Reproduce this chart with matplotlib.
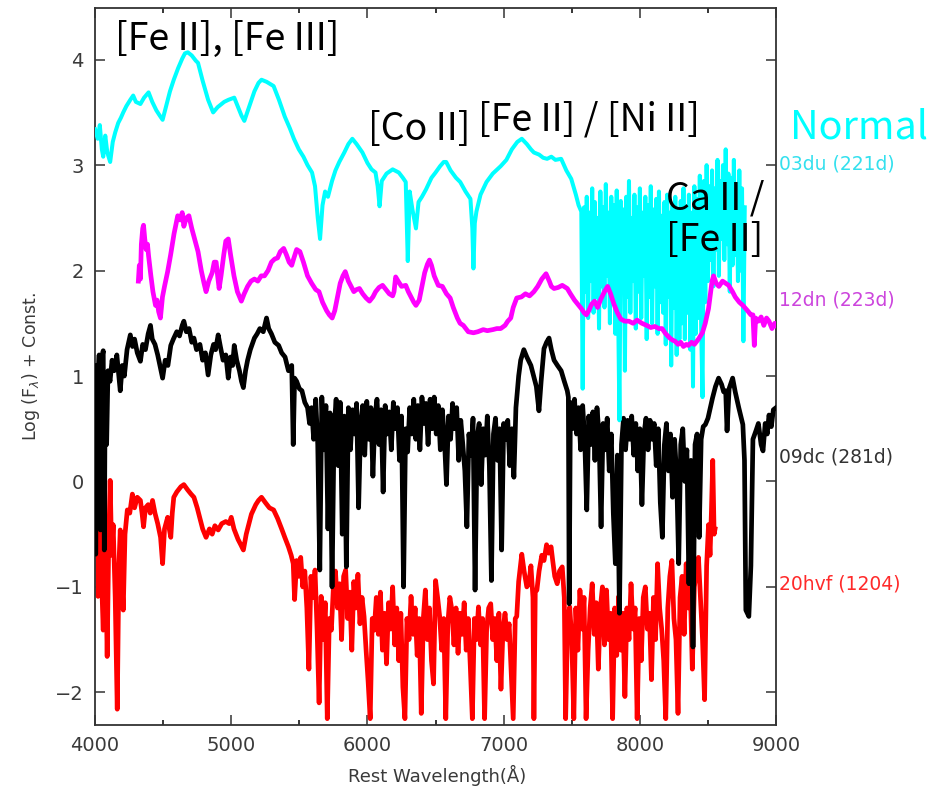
import matplotlib
matplotlib.use("Agg")
import matplotlib.pyplot as plt
from matplotlib.ticker import MultipleLocator

# ---------------- data ----------------
wl_03du = [4000, 4020, 4035, 4050, 4060, 4075, 4090, 4111, 4130, 4148, 4170, 4190, 4207, 4230, 4259, 4280, 4300,
           4333, 4360, 4393, 4420, 4450, 4475, 4496, 4520, 4550, 4578, 4610, 4640, 4660, 4681, 4710, 4740, 4756,
           4790, 4830, 4867, 4900, 4948, 4980, 5022, 5050, 5075, 5096, 5130, 5170, 5200, 5222, 5260, 5311, 5350,
           5393, 5430, 5460, 5496, 5530, 5560, 5593, 5615, 5635, 5652, 5670, 5689, 5710, 5740, 5765, 5793, 5830,
           5860, 5889, 5920, 5963, 6000, 6030, 6059, 6075, 6089, 6105, 6140, 6185, 6230, 6260, 6281, 6296, 6310,
           6330, 6356, 6375, 6400, 6430, 6470, 6500, 6533, 6560, 6578, 6610, 6650, 6681, 6720, 6756, 6770, 6778,
           6788, 6800, 6830, 6874, 6920, 6978, 7020, 7060, 7100, 7133, 7170, 7200, 7222, 7260, 7290, 7319, 7350,
           7380, 7422, 7460, 7496, 7530, 7550, 7570,
           7580, 7590, 7600, 7610, 7620, 7630, 7640, 7650, 7660, 7670, 7680, 7690, 7700, 7710, 7720, 7730, 7740,
           7750, 7760, 7770, 7780, 7790, 7800, 7810, 7820, 7830, 7840, 7850, 7860, 7870, 7880, 7890, 7900, 7910,
           7920, 7930, 7940, 7950, 7960, 7970, 7980, 7990, 8000, 8010, 8020, 8030, 8040, 8050, 8060, 8070, 8080,
           8090, 8100, 8110, 8120, 8130, 8140, 8150, 8160, 8170, 8180, 8190, 8200, 8210, 8220, 8230, 8240, 8250,
           8260, 8270, 8280, 8290, 8300, 8310, 8320, 8330, 8340, 8350, 8360, 8370, 8380, 8390, 8400, 8410, 8420,
           8430, 8440, 8450, 8460, 8470, 8480, 8490, 8500, 8510, 8520, 8530, 8540, 8550, 8560, 8570, 8580, 8590,
           8600, 8610, 8620, 8630, 8640, 8650, 8660, 8670, 8680, 8690, 8700, 8710, 8720, 8730, 8740, 8750, 8760,
           8770]
fl_03du = [3.34, 3.25, 3.38, 3.15, 3.08, 3.28, 3.12, 3.03, 3.22, 3.31, 3.40, 3.45, 3.50, 3.56, 3.62, 3.66, 3.60,
           3.58, 3.64, 3.69, 3.60, 3.52, 3.47, 3.43, 3.55, 3.70, 3.81, 3.92, 4.01, 4.06, 4.07, 4.04, 3.99, 3.97,
           3.80, 3.62, 3.50, 3.55, 3.60, 3.62, 3.64, 3.55, 3.47, 3.42, 3.55, 3.70, 3.78, 3.81, 3.79, 3.75, 3.62,
           3.46, 3.35, 3.25, 3.15, 3.08, 3.00, 2.93, 2.80, 2.50, 2.30, 2.62, 2.75, 2.70, 2.85, 2.95, 3.03, 3.12,
           3.20, 3.25, 3.20, 3.12, 3.02, 2.96, 2.93, 2.80, 2.61, 2.85, 2.92, 2.96, 2.93, 2.88, 2.84, 2.09, 2.75,
           2.58, 2.40, 2.65, 2.70, 2.77, 2.88, 2.93, 2.99, 3.03, 3.03, 2.95, 2.88, 2.84, 2.75, 2.68, 2.40, 2.02,
           2.45, 2.56, 2.72, 2.84, 2.92, 2.99, 3.05, 3.15, 3.22, 3.25, 3.20, 3.15, 3.12, 3.10, 3.07, 3.06, 3.08,
           3.05, 3.06, 2.95, 2.87, 2.72, 2.62, 2.56,
           0.88, 2.60, 1.80, 2.70, 1.55, 2.55, 1.90, 2.78, 1.60, 2.65, 1.75, 2.50, 1.45, 2.75, 1.85, 2.60, 1.65,
           2.82, 1.95, 2.55, 1.50, 2.70, 1.80, 2.62, 1.40, 2.76, 1.70, 0.58, 2.66, 1.85, 2.58, 1.05, 2.70, 1.75,
           2.85, 1.60, 2.50, 1.90, 2.72, 1.45, 2.60, 1.80, 2.78, 1.55, 2.55, 1.95, 2.70, 1.35, 2.62, 1.75, 2.80,
           1.50, 2.58, 1.85, 2.68, 1.40, 2.75, 1.70, 2.52, 1.60, 2.65, 1.30, 2.72, 1.75, 2.55, 1.10, 2.62, 1.65,
           2.70, 1.20, 2.58, 1.35, 2.66, 1.50, 2.78, 1.35, 2.60, 1.60, 2.72, 1.25, 2.55, 0.90, 2.80, 1.40, 2.68,
           1.55, 2.90, 1.45, 0.80, 2.85, 1.70, 3.00, 1.90, 2.80, 2.10, 2.95, 1.85, 2.78, 2.20, 3.05, 1.95, 2.85,
           2.30, 3.00, 2.10, 3.15, 2.25, 2.92, 1.80, 2.88, 2.05, 3.05, 2.15, 2.82, 1.90, 2.95, 2.00, 2.78, 1.33,
           2.60]

wl_12dn = [4318, 4325, 4333, 4340, 4350, 4356, 4365, 4375, 4385, 4393, 4410, 4425, 4444, 4455, 4467, 4480, 4495,
           4510, 4533, 4555, 4580, 4607, 4625, 4640, 4652, 4670, 4689, 4710, 4735, 4756, 4780, 4800, 4815, 4835,
           4860, 4875, 4889, 4900, 4911, 4925, 4945, 4960, 4978, 4995, 5020, 5045, 5074, 5095, 5120, 5145, 5170,
           5195, 5220, 5244, 5270, 5295, 5319, 5340, 5360, 5385, 5405, 5425, 5444, 5460, 5480, 5504, 5530, 5560,
           5590, 5620, 5644, 5670, 5700, 5720, 5741, 5760, 5780, 5800, 5820, 5837, 5860, 5880, 5900, 5920, 5941,
           5965, 5990, 6015, 6040, 6060, 6085, 6111, 6135, 6160, 6185, 6195, 6207, 6225, 6250, 6281, 6300, 6320,
           6340, 6356, 6380, 6400, 6420, 6440, 6455, 6470, 6490, 6520, 6550, 6580, 6607, 6630, 6660, 6680, 6704,
           6740, 6778, 6810, 6850, 6880, 6920, 6950, 6978, 7010, 7030, 7052, 7070, 7096, 7130, 7160, 7190, 7222,
           7250, 7280, 7311, 7335, 7350, 7370, 7400, 7430, 7467, 7490, 7520, 7545, 7570, 7590, 7607, 7625, 7645,
           7667, 7690, 7710, 7740, 7763, 7785, 7810, 7835, 7860, 7889, 7920, 7950, 7980, 8015, 8050, 8080, 8110,
           8140, 8163, 8190, 8220, 8240, 8259, 8280, 8300, 8320, 8340, 8356, 8380, 8400, 8430, 8459, 8480, 8504,
           8520, 8530, 8541, 8560, 8580, 8607, 8630, 8652, 8680, 8700, 8730, 8756, 8790, 8815, 8830, 8840, 8850,
           8870, 8890, 8910, 8930, 8948, 8970, 8990, 9000]
fl_12dn = [1.90, 2.05, 1.92, 2.25, 2.40, 2.43, 2.30, 2.20, 2.25, 2.14, 1.95, 1.80, 1.67, 1.72, 1.61, 1.55, 1.75,
           1.85, 1.99, 2.15, 2.35, 2.52, 2.48, 2.55, 2.42, 2.50, 2.52, 2.40, 2.28, 2.18, 2.00, 1.88, 1.80, 1.90,
           1.98, 2.08, 2.08, 1.95, 1.83, 1.95, 2.15, 2.28, 2.30, 2.15, 1.95, 1.80, 1.71, 1.78, 1.85, 1.90, 1.92,
           1.90, 1.95, 1.95, 2.00, 2.08, 2.11, 2.12, 2.18, 2.21, 2.15, 2.08, 2.05, 2.12, 2.20, 2.18, 2.08, 1.95,
           1.88, 1.82, 1.80, 1.70, 1.62, 1.58, 1.55, 1.62, 1.75, 1.88, 1.95, 1.99, 1.90, 1.85, 1.80, 1.82, 1.83,
           1.78, 1.74, 1.71, 1.75, 1.80, 1.84, 1.86, 1.82, 1.78, 1.76, 1.80, 1.94, 1.90, 1.85, 1.86, 1.80, 1.75,
           1.70, 1.67, 1.72, 1.85, 1.98, 2.06, 2.10, 2.05, 1.95, 1.86, 1.85, 1.78, 1.74, 1.65, 1.55, 1.50, 1.48,
           1.42, 1.41, 1.42, 1.44, 1.43, 1.44, 1.45, 1.45, 1.48, 1.52, 1.55, 1.65, 1.74, 1.75, 1.78, 1.76, 1.80,
           1.85, 1.92, 1.97, 1.90, 1.85, 1.83, 1.84, 1.86, 1.83, 1.78, 1.72, 1.68, 1.64, 1.60, 1.58, 1.62, 1.68,
           1.71, 1.65, 1.72, 1.80, 1.85, 1.78, 1.68, 1.60, 1.54, 1.52, 1.52, 1.50, 1.53, 1.50, 1.48, 1.46, 1.47,
           1.45, 1.45, 1.40, 1.36, 1.34, 1.33, 1.30, 1.32, 1.28, 1.30, 1.29, 1.32, 1.30, 1.35, 1.41, 1.50, 1.64,
           1.80, 1.90, 1.95, 1.88, 1.85, 1.90, 1.88, 1.86, 1.80, 1.75, 1.70, 1.67, 1.62, 1.58, 1.58, 1.29, 1.55,
           1.52, 1.56, 1.48, 1.55, 1.52, 1.45, 1.50, 1.48]

wl_09dc = [4000, 4005, 4012, 4020, 4030, 4040, 4048, 4060, 4068, 4075, 4085, 4095, 4110, 4125, 4140, 4160, 4185,
           4200, 4215, 4235, 4259, 4275, 4290, 4310, 4333, 4350, 4370, 4390, 4407, 4420, 4440, 4460, 4480, 4496,
           4515, 4535, 4556, 4575, 4600, 4620, 4640, 4652, 4670, 4690, 4710, 4726, 4745, 4770, 4790, 4810, 4830,
           4850, 4870, 4885, 4904, 4920, 4940, 4960, 4978, 4995, 5010, 5022, 5040, 5060, 5075, 5089, 5105, 5120,
           5140, 5170, 5190, 5210, 5235, 5259, 5275, 5295, 5320, 5348, 5370, 5395, 5420, 5444, 5455, 5465, 5480,
           5500, 5519, 5540, 5560, 5575,
           5590, 5605, 5620, 5635, 5650, 5665, 5680, 5695, 5710, 5725, 5740, 5755, 5770, 5785, 5800, 5815, 5830,
           5845, 5860, 5875, 5890, 5905, 5920, 5935, 5950, 5965, 5980, 5995, 6010, 6025, 6040, 6055, 6070, 6085,
           6100, 6115, 6130, 6145, 6160, 6175, 6190, 6205, 6220, 6235, 6250, 6265, 6280, 6295, 6310, 6325, 6340,
           6355, 6370, 6385, 6400, 6415, 6430, 6445, 6460, 6475, 6490, 6505, 6520, 6535, 6550, 6565, 6580, 6595,
           6610, 6625, 6640, 6655, 6670, 6685, 6700, 6715, 6730, 6745, 6760, 6775, 6790, 6805, 6820, 6835, 6850,
           6865, 6880, 6895, 6910, 6925, 6940, 6955, 6970, 6985, 7000, 7015, 7030, 7045, 7060, 7075, 7090,
           7110, 7125, 7148, 7170, 7200, 7220, 7240, 7259, 7275, 7296, 7315, 7333, 7350, 7370, 7395, 7422, 7445,
           7467, 7475, 7481,
           7490, 7505, 7520, 7535, 7550, 7565, 7580, 7595, 7610, 7625, 7640, 7655, 7670, 7685, 7700, 7715, 7730,
           7745, 7760, 7775, 7790, 7805, 7820, 7835, 7850, 7865, 7880, 7895, 7910, 7925, 7940, 7955, 7970, 7985,
           8000, 8015, 8030, 8045, 8060, 8075, 8090, 8105, 8120, 8135, 8150, 8165, 8180, 8195, 8210, 8225, 8240,
           8255, 8270, 8285, 8300, 8315, 8330, 8345, 8360, 8375, 8390, 8405, 8420, 8435, 8450, 8465,
           8481, 8500, 8533, 8555, 8578, 8600, 8615, 8630, 8640, 8655, 8681, 8700, 8726, 8745, 8756, 8768, 8778,
           8800, 8815, 8830, 8852, 8870, 8890, 8904, 8920, 8935, 8948, 8965, 8980, 9000]
fl_09dc = [1.10, -0.69, 1.05, 0.90, 1.20, -0.46, 1.15, 1.24, -0.65, 1.00, 0.35, 1.05, 0.95, 1.15, 1.05, 1.20, 0.86,
           1.10, 1.00, 1.25, 1.39, 1.28, 1.35, 1.22, 1.14, 1.30, 1.25, 1.40, 1.48, 1.35, 1.30, 1.20, 1.08, 0.98,
           1.15, 1.10, 1.29, 1.35, 1.42, 1.38, 1.48, 1.52, 1.42, 1.45, 1.32, 1.36, 1.25, 1.30, 1.15, 1.22, 1.01,
           1.20, 1.30, 1.25, 1.39, 1.28, 1.15, 1.20, 0.98, 1.18, 1.10, 1.29, 1.15, 1.05, 0.95, 0.89, 1.05, 1.15,
           1.25, 1.36, 1.40, 1.45, 1.42, 1.55, 1.45, 1.40, 1.32, 1.29, 1.22, 1.18, 1.05, 1.10, 0.35, 0.98, 0.95,
           0.88, 0.86, 0.75, 0.70, 0.55,
           0.70, 0.40, 0.78, 0.35, -0.84, 0.80, 0.30, 0.72, -0.45, 0.65, -1.00, 0.50, 0.78, 0.15, 0.75, -0.50, 0.62,
           -0.81, 0.70, 0.30, 0.68, 0.45, 0.74, -0.25, 0.55, 0.72, 0.25, 0.76, 0.40, 0.70, 0.05, 0.62, 0.78, 0.35,
           0.68, -0.10, 0.72, 0.45, 0.66, 0.30, 0.75, 0.50, 0.70, 0.20, 0.62, -1.00, 0.50, 0.28, 0.70, 0.45, 0.78,
           0.40, 0.72, 0.30, 0.80, 0.55, 0.74, 0.35, 0.78, 0.50, 0.80, 0.45, 0.72, 0.30, 0.68, 0.40, -0.03, 0.62,
           0.40, 0.74, 0.50, 0.70, 0.20, 0.58, 0.35, 0.10, -0.43, 0.45, 0.25, 0.60, -1.03, 0.42, 0.55, -0.03, 0.50,
           0.25, 0.62, 0.15, -0.94, 0.45, 0.60, 0.20, 0.50, -0.65, 0.55, 0.40, 0.58, 0.15, 0.50, 0.04, 0.70,
           1.00, 1.15, 1.25, 1.18, 1.10, 1.00, 0.90, 0.67, 0.95, 1.26, 1.32, 1.36, 1.25, 1.15, 1.10, 1.05, 0.95,
           0.86, 0.80, -1.16,
           0.75, 0.50, 0.78, 0.45, 0.70, 0.30, 0.72, 0.40, -0.27, 0.62, 0.35, 0.66, 0.20, 0.70, 0.45, -0.43, 0.55,
           0.30, 0.60, 0.10, 0.45, -0.30, -0.78, 0.25, -1.25, 0.35, 0.60, 0.30, 0.58, 0.40, 0.62, 0.25, 0.55, 0.10,
           0.50, -0.22, 0.45, 0.60, 0.30, 0.58, 0.40, 0.55, 0.15, 0.50, -0.20, -0.53, 0.35, 0.55, 0.10, 0.45, -0.15,
           0.40, 0.05, -0.78, 0.35, 0.50, 0.00, 0.30, -0.97, 0.20, -1.57, 0.35, 0.45, -0.53, 0.40, 0.52,
           0.54, 0.60, 0.79, 0.90, 0.98, 0.92, 0.85, 0.86, 0.48, 0.88, 0.98, 0.85, 0.70, 0.60, 0.54, 0.20, -1.22,
           -1.28, -0.80, 0.40, 0.48, 0.55, 0.35, 0.29, 0.55, 0.45, 0.63, 0.52, 0.68, 0.70]

wl_20hvf = [4000, 4010, 4022, 4030, 4045, 4060, 4070, 4080, 4089, 4100, 4111, 4122, 4133, 4148, 4163, 4175, 4185,
            4196, 4207, 4220, 4237, 4255, 4274, 4290, 4310, 4333, 4345, 4356, 4370, 4390, 4405, 4422, 4440, 4460,
            4481, 4496, 4510, 4533, 4545, 4556, 4567, 4578, 4600, 4630, 4652, 4680, 4705, 4726, 4750, 4770, 4790,
            4815, 4840, 4860, 4880, 4904, 4930, 4960, 4985, 5000, 5020, 5050, 5070, 5089, 5110, 5130, 5148, 5180,
            5200, 5222, 5250, 5280, 5311, 5340, 5370, 5393, 5420, 5440, 5455,
            5465, 5480, 5495, 5510, 5525, 5540, 5555, 5570, 5585, 5600, 5615, 5630, 5645, 5660, 5675, 5690, 5705,
            5720, 5735, 5750, 5765, 5780, 5795, 5810, 5825, 5840, 5855, 5870, 5885, 5900, 5915, 5930, 5945, 5960,
            5975, 5990, 6005, 6020, 6035, 6050, 6065, 6080, 6095, 6110, 6125, 6140, 6155, 6170, 6185, 6200, 6215,
            6230, 6245, 6260, 6275, 6290, 6305, 6320, 6335, 6350, 6365, 6380, 6395, 6410, 6425, 6440, 6455, 6470,
            6485, 6500, 6515, 6530, 6545, 6560, 6575, 6590, 6605, 6620, 6635, 6650, 6665, 6680, 6695, 6710, 6725,
            6740, 6755, 6770, 6785, 6800, 6815, 6830, 6845, 6860, 6875, 6890, 6905, 6920, 6935, 6950, 6965, 6980,
            6995, 7010, 7025, 7040, 7055, 7070, 7085,
            7096, 7110, 7133, 7150, 7170, 7185, 7200, 7215, 7222, 7232, 7244, 7260, 7280, 7296, 7315, 7330, 7348,
            7360, 7375, 7393, 7410, 7430, 7445,
            7455, 7470, 7485, 7500, 7515, 7530, 7545, 7560, 7575, 7590, 7605, 7620, 7635, 7650, 7665, 7680, 7695,
            7710, 7725, 7740, 7755, 7770, 7785, 7800, 7815, 7830, 7845, 7860, 7875, 7890, 7905, 7920, 7935, 7950,
            7965, 7980, 7995, 8010, 8025, 8040, 8055, 8070, 8085, 8100, 8115, 8130, 8145, 8160, 8175, 8190, 8205,
            8220, 8235, 8250, 8265, 8280, 8295, 8310, 8325, 8340, 8355, 8370, 8385, 8400, 8415, 8430, 8445, 8460,
            8475, 8490,
            8504, 8515, 8525, 8535, 8545, 8552]
fl_20hvf = [0.16, -0.40, -1.09, -0.20, -0.80, -1.41, -0.50, -0.90, -1.66, -0.60, 0.01, -0.70, -0.41, -1.10, -2.16,
            -0.80, -0.46, -0.90, -1.22, -0.50, -0.27, -0.30, -0.12, -0.25, -0.15, -0.18, -0.30, -0.43, -0.25, -0.22,
            -0.30, -0.18, -0.30, -0.40, -0.53, -0.78, -0.45, -0.34, -0.45, -0.53, -0.30, -0.15, -0.10, -0.05, -0.03,
            -0.08, -0.12, -0.15, -0.25, -0.35, -0.45, -0.53, -0.45, -0.50, -0.42, -0.46, -0.40, -0.38, -0.40, -0.34,
            -0.45, -0.55, -0.60, -0.65, -0.50, -0.40, -0.31, -0.22, -0.18, -0.15, -0.20, -0.25, -0.27, -0.35, -0.45,
            -0.53, -0.62, -0.70, -0.78,
            -1.12, -0.75, -0.90, -0.72, -1.00, -0.85, -1.20, -1.78, -0.90, -1.10, -0.84, -1.40, -2.10, -1.09, -1.50,
            -1.15, -2.25, -1.30, -1.41, -1.00, -0.85, -1.20, -0.97, -1.50, -0.90, -0.84, -1.30, -1.05, -1.60, -0.95,
            -1.20, -0.88, -1.35, -1.10, -1.28, -1.60, -1.90, -2.25, -1.30, -1.41, -1.10, -1.45, -1.05, -1.60, -1.25,
            -1.73, -1.15, -1.40, -1.00, -1.55, -1.20, -1.70, -1.25, -1.95, -2.25, -1.30, -1.50, -1.09, -1.45, -1.20,
            -1.65, -1.30, -2.20, -1.30, -1.03, -1.50, -1.20, -1.70, -1.92, -0.94, -1.10, -1.28, -1.60, -1.30, -2.25,
            -1.35, -1.10, -1.22, -1.55, -1.20, -1.63, -1.25, -1.45, -1.15, -1.60, -1.30, -1.75, -2.25, -1.30, -1.50,
            -1.19, -1.55, -1.30, -2.25, -1.40, -1.20, -1.16, -1.50, -1.30, -1.70, -1.25, -1.97, -1.40, -1.25, -1.50,
            -1.35, -1.80, -2.25, -1.30,
            -1.28, -0.95, -0.69, -0.85, -1.00, -0.97, -0.80, -1.10, -2.25, -1.05, -1.03, -0.85, -0.70, -0.75, -0.60,
            -0.68, -0.62, -0.75, -0.90, -0.97, -0.85, -0.81, -1.10,
            -2.25, -1.30, -1.19, -1.50, -2.25, -1.20, -1.60, -1.03, -1.40, -1.10, -2.25, -1.60, -1.20, -0.97, -1.45,
            -1.15, -1.78, -1.20, -1.00, -1.55, -1.03, -1.50, -1.25, -2.25, -1.20, -1.65, -1.09, -1.60, -1.25, -2.04,
            -1.20, -1.50, -0.97, -1.40, -1.20, -2.25, -1.30, -1.70, -1.10, -1.00, -1.40, -1.25, -1.88, -1.10, -1.50,
            -0.78, -1.20, -1.40, -1.70, -2.25, -1.20, -0.90, -0.75, -1.30, -1.50, -2.20, -1.10, -0.90, -1.45, -0.78,
            -1.20, -1.00, -1.78, -1.00, -0.85, -0.72, -1.10, -1.50, -2.07, -0.80,
            -0.41, -0.70, -0.30, 0.20, -0.50, -0.45]

series_names = ["03du (221d)", "12dn (223d)", "09dc (281d)", "20hvf (1204)"]
series_label_y = [3.01, 1.72, 0.23, -0.97]
x_ticks = [4000, 5000, 6000, 7000, 8000, 9000]
y_ticks = [-2, -1, 0, 1, 2, 3, 4]

annotations = [("[Fe II], [Fe III]", 4147, 4.19),
               ("[Co II]", 6004, 3.34),
               ("[Fe II] / [Ni II]", 6812, 3.43),
               ("Ca II /\n[Fe II]", 8190, 2.48)]

# ---------------- figure ----------------
fig = plt.figure(figsize=(9.30, 7.89), dpi=100)
ax = fig.add_axes([0.1022, 0.0811, 0.7323, 0.9087])

lw = 3.4
ax.plot(wl_20hvf, fl_20hvf, color="#ff0000", lw=lw, zorder=2)
ax.plot(wl_09dc, fl_09dc, color="#000000", lw=lw, zorder=3)
ax.plot(wl_03du, fl_03du, color="#00ffff", lw=lw * 0.85, zorder=4)
ax.plot(wl_12dn, fl_12dn, color="#ff00ff", lw=lw, zorder=5)

ax.set_xlim(4000, 9000)
ax.set_ylim(-2.31, 4.49)
ax.set_xticks(x_ticks)
ax.set_yticks(y_ticks)
ax.xaxis.set_minor_locator(MultipleLocator(500))

tick_font = "DejaVu Sans"
ax.tick_params(axis="both", which="major", direction="in", length=7, width=1.1,
               top=True, right=True, labelsize=14, colors="#333333", pad=8)
ax.tick_params(axis="x", which="minor", direction="in", length=3.5, width=1.1, top=True)
for lab in ax.get_xticklabels() + ax.get_yticklabels():
    lab.set_fontfamily(tick_font)
    lab.set_color("#3a3a3a")
for sp in ax.spines.values():
    sp.set_color("#333333")
    sp.set_linewidth(1.3)

ax.set_xlabel("Rest Wavelength(Å)", fontsize=13, family=tick_font, color="#3a3a3a")
ax.set_ylabel(r"Log (F$_\lambda$) + Const.", fontsize=12.5, family=tick_font, color="#3a3a3a")
ax.xaxis.set_label_coords(0.502, -0.056)
ax.yaxis.set_label_coords(-0.078, 0.50)

ann_font = ["Noto Sans CJK JP", "DejaVu Sans"]
for txt, x, y in annotations:
    ax.text(x, y, txt, fontsize=27, family=ann_font, color="black", ha="left", va="center",
            linespacing=1.1, zorder=10)

label_colors = ["#33e0ee", "#cc44dd", "#333333", "#ff2a2a"]
for name, yv, col in zip(series_names, series_label_y, label_colors):
    ax.text(1.004, (yv + 2.31) / 6.80, name, transform=ax.transAxes, fontsize=13.5,
            family=tick_font, color=col, ha="left", va="center")
ax.text(1.02, (3.36 + 2.31) / 6.80, "Normal", transform=ax.transAxes, fontsize=28.5,
        family=ann_font, color="#00ffff", ha="left", va="center")

fig.savefig("out.png", dpi=100)
